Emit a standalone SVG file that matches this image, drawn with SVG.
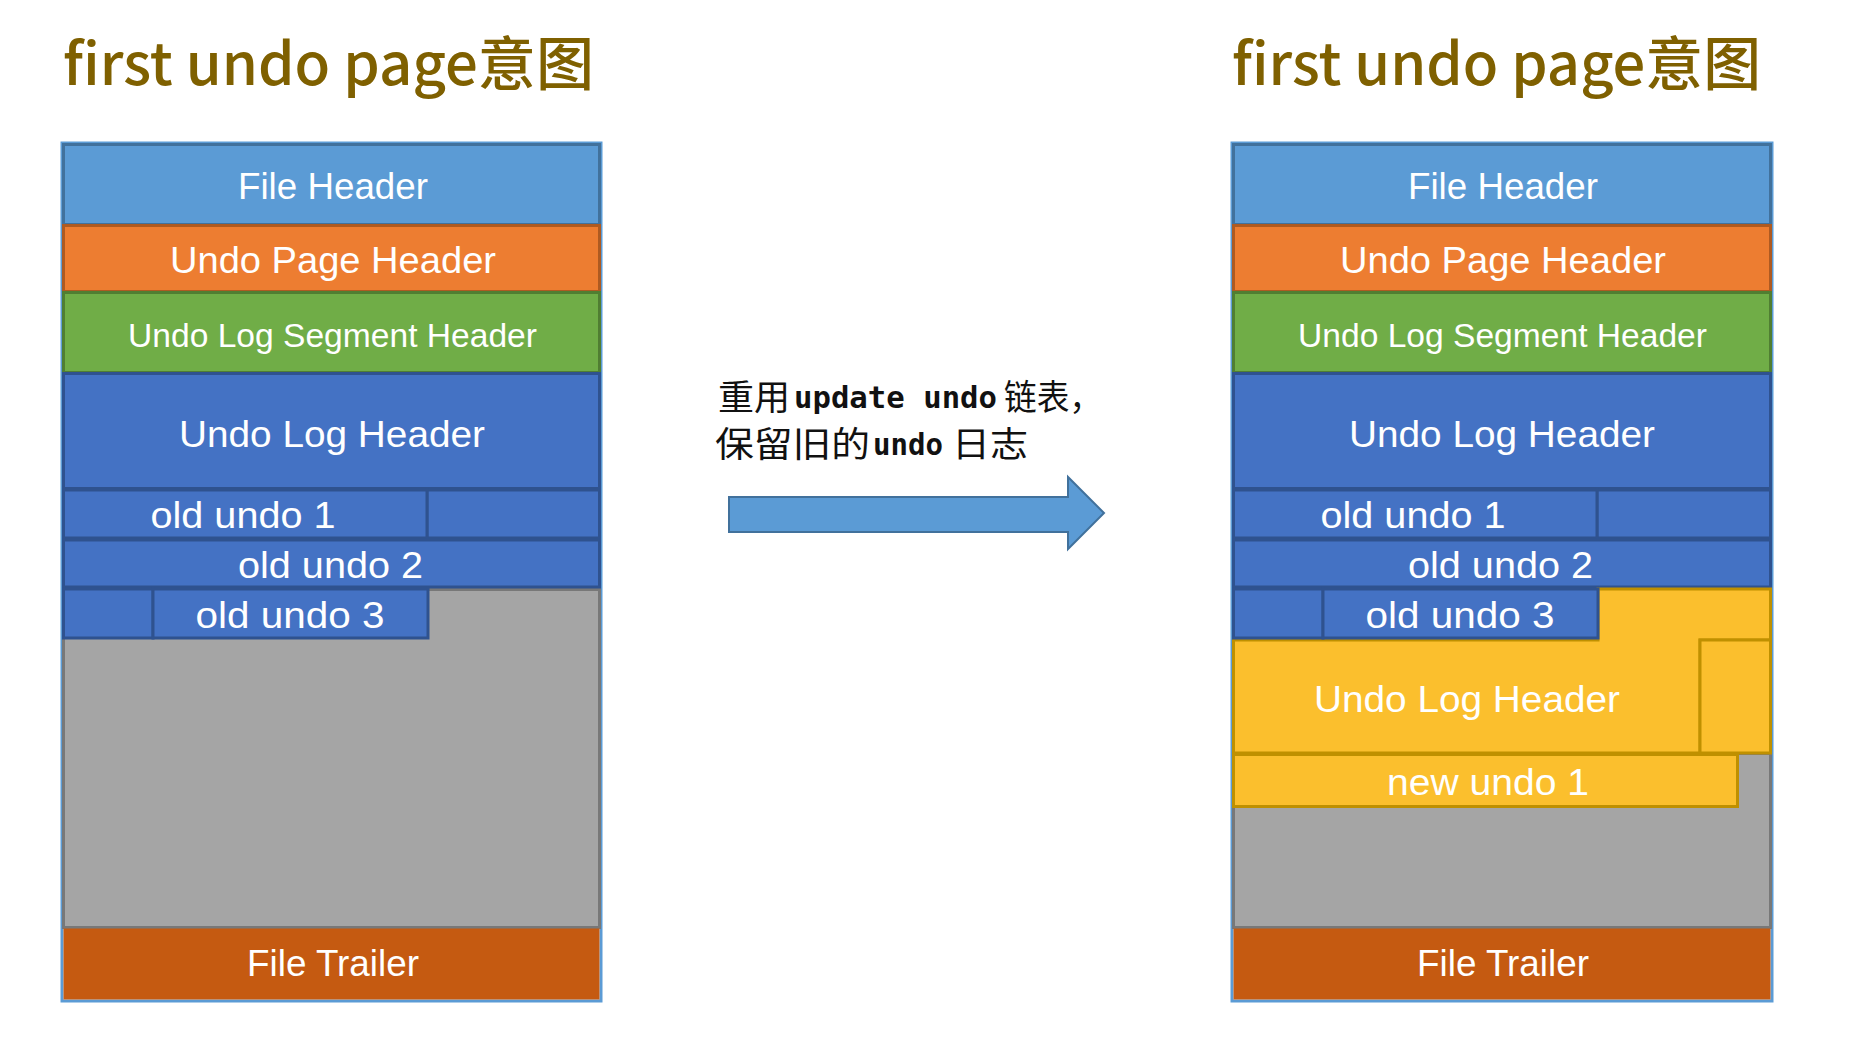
<svg xmlns="http://www.w3.org/2000/svg" width="1876" height="1040" viewBox="0 0 1876 1040">
<style>
.title{font-family:"Noto Sans CJK SC","Liberation Sans",sans-serif;font-weight:500;font-size:58px;fill:#7F6000}
.lbl{font-family:"Liberation Sans","Noto Sans CJK SC",sans-serif;font-size:37px;fill:#FFFFFF;text-anchor:middle}
.cjk{font-family:"Noto Sans CJK SC",sans-serif;font-size:35px;fill:#111111}
.lat{font-family:"DejaVu Sans Mono","Liberation Mono",monospace;font-size:30px;font-weight:bold;fill:#111111}
.frame{fill:none;stroke:#5B9BD5;stroke-width:3}
.fh{fill:#5B9BD5;stroke:#41719C;stroke-width:3}
.uph{fill:#ED7D31;stroke:#AE5A21;stroke-width:3}
.seg{fill:#70AD47;stroke:#507E32;stroke-width:3}
.blue{fill:#4472C4;stroke:#2F528F;stroke-width:3}
.gray{fill:#A5A5A5;stroke:#787878;stroke-width:3}
.yel{fill:#FBBF2D;stroke:#BF9000;stroke-width:3}
.tr{fill:#C55A11}
.arrow{fill:#5B9BD5;stroke:#41719C;stroke-width:2}
</style>

<g id="title-left"><text class="title" x="63" y="85" textLength="531" lengthAdjust="spacingAndGlyphs">first undo page意图</text></g>
<g id="title-right"><text class="title" x="1232" y="85" textLength="529" lengthAdjust="spacingAndGlyphs">first undo page意图</text></g>

<g id="page-left">
  <rect class="frame" x="62" y="143" width="539" height="858"/>
  <g id="left-file-header"><rect class="fh" x="63.5" y="144.5" width="536" height="80"/><text class="lbl" x="333" y="199" textLength="190" lengthAdjust="spacingAndGlyphs">File Header</text></g>
  <g id="left-undo-page-header"><rect class="uph" x="63.5" y="225.5" width="536" height="66"/><text class="lbl" x="333" y="273" textLength="326" lengthAdjust="spacingAndGlyphs">Undo Page Header</text></g>
  <g id="left-segment-header"><rect class="seg" x="63.5" y="292.5" width="536" height="80"/><text class="lbl" x="332.5" y="347" textLength="409" lengthAdjust="spacingAndGlyphs" style="font-size:33px">Undo Log Segment Header</text></g>
  <g id="left-undo-log-header"><rect class="blue" x="63.5" y="373.5" width="536" height="115"/><text class="lbl" x="332" y="447" textLength="306" lengthAdjust="spacingAndGlyphs">Undo Log Header</text></g>
  <g id="left-free"><rect class="gray" x="63.5" y="589.5" width="536" height="338"/></g>
  <g id="left-old-undo-1"><rect class="blue" x="427" y="490" width="172.5" height="48"/><rect class="blue" x="63.5" y="490" width="363.5" height="48"/><text class="lbl" x="243" y="528" textLength="185" lengthAdjust="spacingAndGlyphs">old undo 1</text></g>
  <g id="left-old-undo-2"><rect class="blue" x="63.5" y="540" width="536" height="47"/><text class="lbl" x="330.5" y="578" textLength="185" lengthAdjust="spacingAndGlyphs">old undo 2</text></g>
  <g id="left-old-undo-3"><rect class="blue" x="63.5" y="589" width="89.5" height="49"/><rect class="blue" x="153" y="589" width="275" height="49"/><text class="lbl" x="290" y="628" textLength="189" lengthAdjust="spacingAndGlyphs">old undo 3</text></g>
  <g id="left-file-trailer"><rect class="tr" x="63.5" y="928.5" width="536" height="71"/><text class="lbl" x="333" y="976" textLength="172" lengthAdjust="spacingAndGlyphs">File Trailer</text></g>
</g>

<g id="page-right">
  <rect class="frame" x="1232" y="143" width="540" height="858"/>
  <g id="right-file-header"><rect class="fh" x="1233.5" y="144.5" width="537" height="80"/><text class="lbl" x="1503" y="199" textLength="190" lengthAdjust="spacingAndGlyphs">File Header</text></g>
  <g id="right-undo-page-header"><rect class="uph" x="1233.5" y="225.5" width="537" height="66"/><text class="lbl" x="1503" y="273" textLength="326" lengthAdjust="spacingAndGlyphs">Undo Page Header</text></g>
  <g id="right-segment-header"><rect class="seg" x="1233.5" y="292.5" width="537" height="80"/><text class="lbl" x="1502.5" y="347" textLength="409" lengthAdjust="spacingAndGlyphs" style="font-size:33px">Undo Log Segment Header</text></g>
  <g id="right-undo-log-header"><rect class="blue" x="1233.5" y="373.5" width="537" height="115"/><text class="lbl" x="1502" y="447" textLength="306" lengthAdjust="spacingAndGlyphs">Undo Log Header</text></g>
  <g id="right-free"><rect class="gray" x="1233.5" y="753.5" width="537" height="174"/></g>
  <g id="right-old-undo-1"><rect class="blue" x="1597" y="490" width="173.5" height="48"/><rect class="blue" x="1233.5" y="490" width="363.5" height="48"/><text class="lbl" x="1413" y="528" textLength="185" lengthAdjust="spacingAndGlyphs">old undo 1</text></g>
  <g id="right-old-undo-2"><rect class="blue" x="1233.5" y="540" width="537" height="47"/><text class="lbl" x="1500.5" y="578" textLength="185" lengthAdjust="spacingAndGlyphs">old undo 2</text></g>
  <g id="right-new-undo-log-header">
    <polygon class="yel" points="1233.5,640 1598,640 1598,589 1770.5,589 1770.5,640 1700,640 1700,753 1233.5,753"/>
    <rect class="yel" x="1700" y="640" width="70.5" height="113"/>
    <text class="lbl" x="1467" y="712" textLength="306" lengthAdjust="spacingAndGlyphs">Undo Log Header</text>
  </g>
  <g id="right-old-undo-3"><rect class="blue" x="1233.5" y="589" width="89.5" height="49"/><rect class="blue" x="1323" y="589" width="275" height="49"/><text class="lbl" x="1460" y="628" textLength="189" lengthAdjust="spacingAndGlyphs">old undo 3</text></g>
  <g id="right-new-undo-1"><rect class="yel" x="1233.5" y="754.5" width="504" height="52"/><text class="lbl" x="1488" y="795" textLength="202" lengthAdjust="spacingAndGlyphs">new undo 1</text></g>
  <g id="right-file-trailer"><rect class="tr" x="1233.5" y="928.5" width="537" height="71"/><text class="lbl" x="1503" y="976" textLength="172" lengthAdjust="spacingAndGlyphs">File Trailer</text></g>
</g>

<g id="note">
  <text class="cjk" x="718" y="410" textLength="72" lengthAdjust="spacingAndGlyphs">重用</text>
  <text class="lat" x="794" y="408" textLength="203" lengthAdjust="spacingAndGlyphs">update undo</text>
  <text class="cjk" x="1004" y="410" textLength="98" lengthAdjust="spacingAndGlyphs">链表，</text>
  <text class="cjk" x="715" y="457" textLength="155" lengthAdjust="spacingAndGlyphs">保留旧的</text>
  <text class="lat" x="873" y="455" textLength="70" lengthAdjust="spacingAndGlyphs">undo</text>
  <text class="cjk" x="952" y="457" textLength="76" lengthAdjust="spacingAndGlyphs">日志</text>
</g>

<g id="connectors">
  <polygon class="arrow" points="729,497 1068,497 1068,477 1104,513 1068,549 1068,532 729,532"/>
</g>
</svg>
